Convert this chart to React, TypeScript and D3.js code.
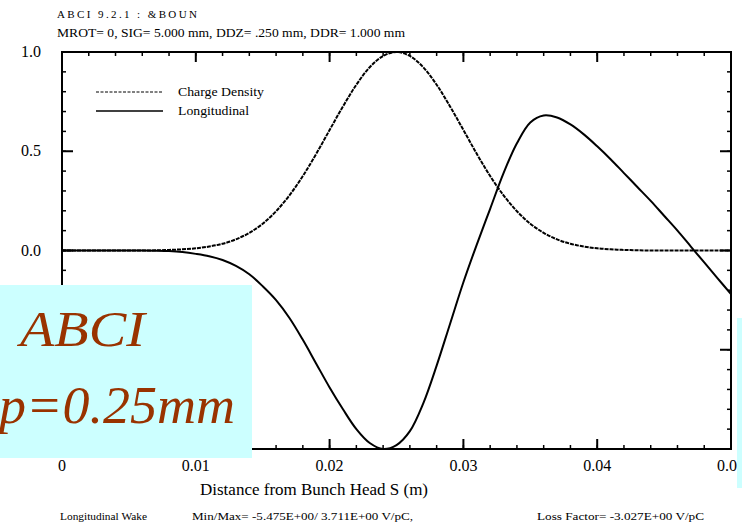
import React from 'react';
import * as d3 from 'd3';

// distance from bunch head S (m)
const distance = [
  0, 0.001, 0.002, 0.003, 0.004, 0.005, 0.006, 0.007, 0.008, 0.009,
  0.01, 0.011, 0.012, 0.013, 0.014, 0.015, 0.016, 0.017, 0.018, 0.019,
  0.02, 0.021, 0.022, 0.023, 0.024, 0.025, 0.026, 0.027, 0.028, 0.029,
  0.03, 0.031, 0.032, 0.033, 0.034, 0.035, 0.036, 0.037, 0.038, 0.039,
  0.04, 0.041, 0.042, 0.043, 0.044, 0.045, 0.046, 0.047, 0.048, 0.049, 0.05,
];

const chargeDensity = [
  0, 0, 0, 0, 0, 0, 0, 0.001, 0.003, 0.006,
  0.011, 0.02, 0.034, 0.056, 0.089, 0.135, 0.198, 0.278, 0.375, 0.487,
  0.607, 0.726, 0.835, 0.923, 0.98, 1.0, 0.98, 0.923, 0.835, 0.726,
  0.607, 0.487, 0.375, 0.278, 0.198, 0.135, 0.089, 0.056, 0.034, 0.02,
  0.011, 0.006, 0.003, 0.001, 0, 0, 0, 0, 0, 0, 0,
];

const longitudinal = [
  0, 0, 0, 0, 0, 0, 0, -0.001, -0.003, -0.008,
  -0.017, -0.029, -0.048, -0.078, -0.12, -0.18, -0.25, -0.34, -0.45, -0.57,
  -0.69, -0.8, -0.9, -0.97, -1.0, -0.98, -0.91, -0.77, -0.58, -0.37,
  -0.16, 0.03, 0.21, 0.39, 0.54, 0.645, 0.68, 0.67, 0.635, 0.585,
  0.525, 0.46, 0.39, 0.32, 0.25, 0.175, 0.1, 0.02, -0.06, -0.14, -0.22,
];

const xMajorTicks = [0, 0.01, 0.02, 0.03, 0.04, 0.05];
const xTickLabels = ['0', '0.01', '0.02', '0.03', '0.04', '0.05'];
const yMajorTicks = [-1, -0.5, 0, 0.5, 1];
const yTickLabels = ['-1.0', '-0.5', '0.0', '0.5', '1.0'];

const W = 742;
const H = 524;
const serif = '"Liberation Serif", "DejaVu Serif", serif';

export default function App() {
  const x = d3.scaleLinear().domain([0, 0.05]).range([62, 731]);
  const y = d3.scaleLinear().domain([-1, 1]).range([449, 52]);

  const xMinor = d3.range(0, 0.0501, 0.002);
  const yMinor = d3.range(-1, 1.001, 0.1);

  const line = d3.line<number>()
    .x((_, i) => x(distance[i]))
    .y(d => y(d))
    .curve(d3.curveCatmullRom);

  const [x0, x1] = x.range();
  const [y0, y1] = y.range();
  const txt = { fontFamily: serif };

  return (
    <svg width={W} height={H} style={{ position: 'absolute', left: 0, top: 0, background: '#fff', fontFamily: serif }}>
      {/* header */}
      <text x={57} y={18} fontSize={11} style={txt} textLength={140} lengthAdjust="spacing">ABCI 9.2.1 : &amp;BOUN</text>
      <text x={57} y={37} fontSize={12} style={txt} textLength={348} lengthAdjust="spacingAndGlyphs">
        MROT= 0, SIG= 5.000 mm, DDZ= .250 mm, DDR= 1.000 mm
      </text>

      {/* curves */}
      <path d={line(chargeDensity) || ''} fill="none" stroke="#000" strokeWidth={2} strokeDasharray="4,1" />
      <path d={line(longitudinal) || ''} fill="none" stroke="#000" strokeWidth={2} />

      {/* frame */}
      <rect x={x0} y={y1} width={x1 - x0} height={y0 - y1} fill="none" stroke="#000" strokeWidth={2} />

      {/* x ticks, top & bottom, pointing inward */}
      {xMinor.map((t, i) => (
        <g key={'xm' + i}>
          <line x1={x(t)} x2={x(t)} y1={y0} y2={y0 - 4} stroke="#000" strokeWidth={1.5} />
          <line x1={x(t)} x2={x(t)} y1={y1} y2={y1 + 4} stroke="#000" strokeWidth={1.5} />
        </g>
      ))}
      {xMajorTicks.map((t, i) => (
        <g key={'xM' + i}>
          <line x1={x(t)} x2={x(t)} y1={y0} y2={y0 - 10} stroke="#000" strokeWidth={2} />
          <line x1={x(t)} x2={x(t)} y1={y1} y2={y1 + 10} stroke="#000" strokeWidth={2} />
          <text x={x(t)} y={471} fontSize={16} style={txt} textAnchor="middle">{xTickLabels[i]}</text>
        </g>
      ))}

      {/* y ticks, left & right */}
      {yMinor.map((t, i) => (
        <g key={'ym' + i}>
          <line x1={x0} x2={x0 + 4} y1={y(t)} y2={y(t)} stroke="#000" strokeWidth={1.5} />
          <line x1={x1} x2={x1 - 4} y1={y(t)} y2={y(t)} stroke="#000" strokeWidth={1.5} />
        </g>
      ))}
      {yMajorTicks.map((t, i) => (
        <g key={'yM' + i}>
          <line x1={x0} x2={x0 + 11} y1={y(t)} y2={y(t)} stroke="#000" strokeWidth={2} />
          <line x1={x1} x2={x1 - 11} y1={y(t)} y2={y(t)} stroke="#000" strokeWidth={2} />
          <text x={41} y={y(t) + 5} fontSize={16} style={txt} textAnchor="end">{yTickLabels[i]}</text>
        </g>
      ))}

      {/* legend */}
      <line x1={96} x2={163} y1={92} y2={92} stroke="#000" strokeWidth={1} strokeDasharray="3,1.5" />
      <text x={178} y={96} fontSize={12} style={txt} textLength={86} lengthAdjust="spacingAndGlyphs">Charge Density</text>
      <line x1={96} x2={163} y1={111} y2={111} stroke="#000" strokeWidth={1.3} />
      <text x={178} y={115} fontSize={12} style={txt} textLength={71} lengthAdjust="spacingAndGlyphs">Longitudinal</text>

      {/* axis title */}
      <text x={200} y={495} fontSize={17} style={txt}>
        Distance from Bunch Head S (m)
      </text>

      {/* footer */}
      <text x={60} y={520} fontSize={11} style={txt} textLength={87} lengthAdjust="spacingAndGlyphs">Longitudinal Wake</text>
      <text x={192} y={520} fontSize={11} style={txt} textLength={221} lengthAdjust="spacingAndGlyphs">
        Min/Max= -5.475E+00/ 3.711E+00 V/pC,
      </text>
      <text x={537} y={520} fontSize={11} style={txt} textLength={167} lengthAdjust="spacingAndGlyphs">
        Loss Factor= -3.027E+00 V/pC
      </text>

      {/* slide overlays */}
      <rect x={0} y={285} width={252} height={173} fill="#ccffff" />
      <text x={20} y={346} fontSize={50} fontStyle="italic" fill="#993300" style={txt}
        textLength={125} lengthAdjust="spacingAndGlyphs">ABCI</text>
      <text x={-1} y={423} fontSize={52} fontStyle="italic" fill="#993300" style={txt}
        textLength={236} lengthAdjust="spacingAndGlyphs">p=0.25mm</text>
      <rect x={737} y={318} width={5} height={170} fill="#ccffff" />
    </svg>
  );
}
